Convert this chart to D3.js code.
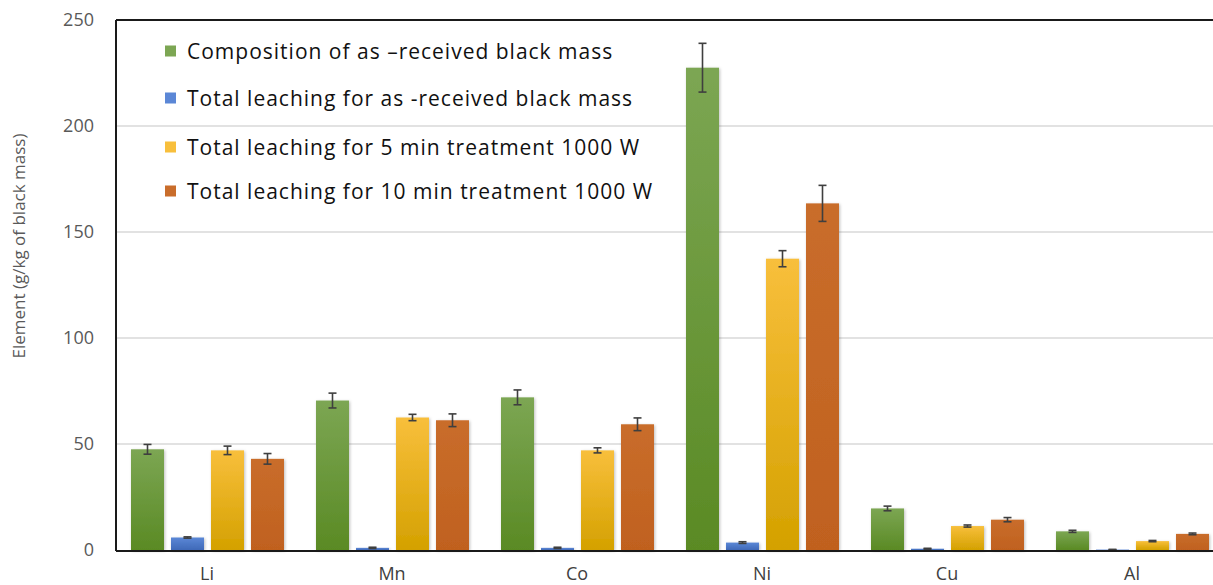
<!DOCTYPE html>
<html>
<head>
<meta charset="utf-8">
<script src="https://d3js.org/d3.v7.min.js"></script>
<style>
  body { margin: 0; background: #fff; }
  svg { display: block; font-family: "Open Sans", sans-serif; }
</style>
</head>
<body>
<div id="chart"></div>
<script>
// data
const categories = ["Li", "Mn", "Co", "Ni", "Cu", "Al"];
const seriesNames = [
  "Composition of as \u2013received black mass",
  "Total leaching for as -received black mass",
  "Total leaching for 5 min treatment 1000 W",
  "Total leaching for 10 min treatment 1000 W"
];
const composition = [47.5, 70.5, 72, 227.5, 19.6, 8.8];
const compositionErr = [2.3, 3.5, 3.5, 11.5, 1.1, 0.5];
const asReceived = [5.9, 1, 1, 3.5, 0.6, 0.2];
const asReceivedErr = [0.3, 0.3, 0.3, 0.4, 0.2, 0.1];
const min5 = [47, 62.5, 47, 137.4, 11.3, 4.2];
const min5Err = [2, 1.5, 1.2, 3.8, 0.5, 0.3];
const min10 = [43, 61.2, 59.3, 163.5, 14.3, 7.6];
const min10Err = [2.5, 3, 3, 8.5, 1, 0.4];
const yTicks = [0, 50, 100, 150, 200, 250];

const values = [composition, asReceived, min5, min10];
const errors = [compositionErr, asReceivedErr, min5Err, min10Err];
const colors = [["#7ca653", "#5a8a24"], ["#5b87d6", "#3f69b8"], ["#f8bf3c", "#d4a100"], ["#c96d2b", "#c0611f"]];

const W = 1213, H = 585;
const plotLeft = 116, plotRight = 1226, plotTop = 20, plotBottom = 550;

const svg = d3.select("#chart").append("svg")
  .attr("width", W).attr("height", H);

const defs = svg.append("defs");
colors.forEach(function(c, i) {
  const g = defs.append("linearGradient").attr("id", "grad" + i)
    .attr("x1", 0).attr("y1", 0).attr("x2", 0).attr("y2", 1);
  g.append("stop").attr("offset", "0%").attr("stop-color", c[0]);
  g.append("stop").attr("offset", "100%").attr("stop-color", c[1]);
});
defs.append("filter").attr("id", "shadow")
  .attr("x", "-20%").attr("y", "-20%").attr("width", "140%").attr("height", "140%")
  .append("feDropShadow").attr("dx", 1).attr("dy", 1)
  .attr("stdDeviation", 1.5).attr("flood-color", "#000").attr("flood-opacity", 0.25);

const x0 = d3.scaleBand().domain(categories).range([plotLeft, plotRight]);
const x1 = d3.scaleBand().domain(d3.range(4)).range([15, 168]).paddingInner(0.175);
const y = d3.scaleLinear().domain([0, 250]).range([plotBottom, plotTop]);

// gridlines
svg.append("g").selectAll("line")
  .data(yTicks.filter(function(d) { return d > 0 && d < 250; }))
  .join("line")
  .attr("x1", plotLeft).attr("x2", W)
  .attr("y1", function(d) { return y(d); }).attr("y2", function(d) { return y(d); })
  .attr("stroke", "#d9d9d9").attr("stroke-width", 1.5);

// y tick labels
svg.append("g").selectAll("text")
  .data(yTicks)
  .join("text")
  .attr("x", 94).attr("y", function(d) { return y(d); })
  .attr("dy", "0.36em")
  .attr("text-anchor", "end")
  .attr("font-size", 18).attr("fill", "#595959")
  .text(function(d) { return d; });

// bars
const groups = svg.append("g").selectAll("g")
  .data(categories)
  .join("g")
  .attr("transform", function(d) { return "translate(" + x0(d) + ",0)"; });

groups.each(function(cat, ci) {
  const g = d3.select(this);
  const rows = d3.range(4).map(function(s) {
    return { s: s, v: values[s][ci], e: errors[s][ci] };
  });
  g.selectAll("rect")
    .data(rows)
    .join("rect")
    .attr("x", function(d) { return x1(d.s); })
    .attr("width", x1.bandwidth())
    .attr("y", function(d) { return y(d.v); })
    .attr("height", function(d) { return y(0) - y(d.v); })
    .attr("fill", function(d) { return "url(#grad" + d.s + ")"; })
    .attr("filter", "url(#shadow)");

  // error bars
  const eb = g.selectAll("g.err")
    .data(rows)
    .join("g").attr("class", "err")
    .attr("stroke", "#3f3f3f").attr("stroke-width", 1.6);
  const cx = function(d) { return x1(d.s) + x1.bandwidth() / 2; };
  eb.append("line")
    .attr("x1", cx).attr("x2", cx)
    .attr("y1", function(d) { return y(d.v + d.e); })
    .attr("y2", function(d) { return y(Math.max(0, d.v - d.e)); });
  eb.append("line")
    .attr("x1", function(d) { return cx(d) - 4; })
    .attr("x2", function(d) { return cx(d) + 4; })
    .attr("y1", function(d) { return y(d.v + d.e); })
    .attr("y2", function(d) { return y(d.v + d.e); });
  eb.append("line")
    .attr("x1", function(d) { return cx(d) - 4; })
    .attr("x2", function(d) { return cx(d) + 4; })
    .attr("y1", function(d) { return y(Math.max(0, d.v - d.e)); })
    .attr("y2", function(d) { return y(Math.max(0, d.v - d.e)); });
});

// frame: top, left, bottom
svg.append("line").attr("x1", plotLeft).attr("x2", W).attr("y1", plotTop).attr("y2", plotTop)
  .attr("stroke", "#1a1a1a").attr("stroke-width", 2);
svg.append("line").attr("x1", plotLeft).attr("x2", plotLeft).attr("y1", plotTop).attr("y2", plotBottom + 1)
  .attr("stroke", "#1a1a1a").attr("stroke-width", 2);
svg.append("line").attr("x1", plotLeft).attr("x2", W).attr("y1", plotBottom + 1).attr("y2", plotBottom + 1)
  .attr("stroke", "#1a1a1a").attr("stroke-width", 2);

// x labels
svg.append("g").selectAll("text")
  .data(categories)
  .join("text")
  .attr("x", function(d) { return x0(d) + 91; })
  .attr("y", 580)
  .attr("text-anchor", "middle")
  .attr("font-size", 18).attr("fill", "#404040")
  .text(function(d) { return d; });

// y axis title
svg.append("text")
  .attr("transform", "translate(25,246) rotate(-90)")
  .attr("text-anchor", "middle")
  .attr("font-size", 17).attr("fill", "#595959")
  .text("Element (g/kg of black mass)");

// legend
const legendY = [51, 98, 147, 191];
const legend = svg.append("g").selectAll("g")
  .data(seriesNames)
  .join("g")
  .attr("transform", function(d, i) { return "translate(165," + legendY[i] + ")"; });
legend.append("rect")
  .attr("x", 0).attr("y", -5.5).attr("width", 11).attr("height", 11)
  .attr("fill", function(d, i) { return colors[i][0]; });
legend.append("text")
  .attr("x", 22).attr("dy", "0.36em")
  .attr("font-size", 21).attr("letter-spacing", 1)
  .attr("fill", "#111")
  .text(function(d) { return d; });
</script>
</body>
</html>
